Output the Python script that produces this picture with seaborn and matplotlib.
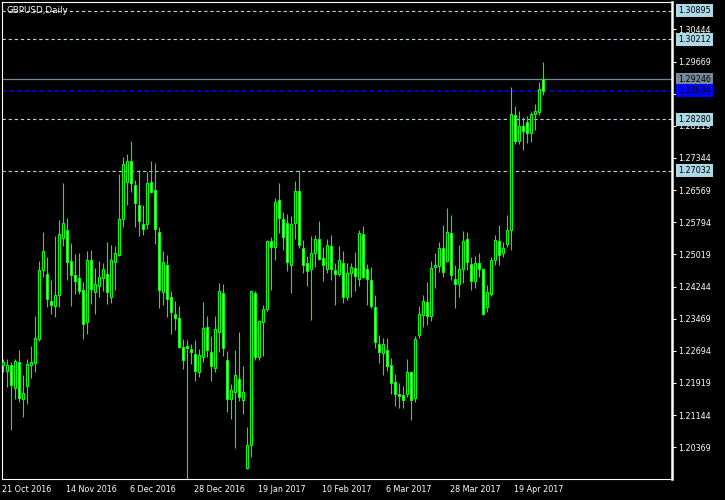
import numpy as np
import pandas as pd
import matplotlib
matplotlib.use('Agg')
import matplotlib.pyplot as plt
import seaborn as sns

# daily candles GBPUSD, 21 Oct 2016 .. Apr 2017
opens = [1.22353, 1.22202, 1.22346, 1.21805, 1.22425, 1.21540, 1.21853, 1.22360, 1.22408, 1.22973,
         1.24637, 1.24541, 1.23889, 1.23783, 1.24048, 1.25422, 1.25600, 1.24853, 1.24531, 1.24444,
         1.24155, 1.23398, 1.24878, 1.24121, 1.24266, 1.24444, 1.24541, 1.24000, 1.24844, 1.25013,
         1.25880, 1.26773, 1.27264, 1.26686, 1.26203, 1.25753, 1.25760, 1.26758, 1.26565, 1.25552,
         1.24107, 1.24757, 1.23985, 1.23575, 1.23479, 1.22795, 1.22811, 1.22739, 1.22611, 1.22192,
         1.22553, 1.23262, 1.22659, 1.22288, 1.23156, 1.24082, 1.22466, 1.21540, 1.21709, 1.22008,
         1.21516, 1.19870, 1.20417, 1.24082, 1.22553, 1.23383, 1.23711, 1.25335, 1.25191, 1.26324,
         1.25880, 1.25769, 1.24771, 1.25769, 1.26541, 1.25181, 1.24820, 1.24661, 1.25046, 1.25384,
         1.24926, 1.24661, 1.25215, 1.24637, 1.24555, 1.24805, 1.24000, 1.24564, 1.24685, 1.24419,
         1.25504, 1.24661, 1.24395, 1.23744, 1.22852, 1.22636, 1.22707, 1.22346, 1.21938, 1.21646,
         1.21622, 1.21661, 1.22177, 1.21564, 1.23077, 1.23559, 1.23865, 1.23542, 1.24723, 1.24747,
         1.25181, 1.24860, 1.25528, 1.24419, 1.24299, 1.24661, 1.25398, 1.24781, 1.24371, 1.24805,
         1.24661, 1.23759, 1.24072, 1.24878, 1.25335, 1.25061, 1.25278, 1.25617, 1.28374, 1.27761,
         1.28108, 1.28204, 1.27939, 1.28397, 1.28445, 1.29246]
highs = [1.22498, 1.22498, 1.22425, 1.22498, 1.22715, 1.22104, 1.22498, 1.22811, 1.23534, 1.24860,
         1.25560, 1.24957, 1.24402, 1.25456, 1.25849, 1.26741, 1.25890, 1.25287, 1.25030, 1.25054,
         1.24348, 1.25095, 1.25119, 1.24685, 1.24860, 1.24805, 1.25311, 1.25239, 1.25222, 1.26959,
         1.27361, 1.27433, 1.27754, 1.26806, 1.27045, 1.26203, 1.26997, 1.27264, 1.27224, 1.25673,
         1.25095, 1.24999, 1.24137, 1.23889, 1.23776, 1.22980, 1.22956, 1.22859, 1.22956, 1.22739,
         1.23872, 1.23534, 1.23052, 1.23534, 1.24323, 1.24299, 1.22691, 1.21895, 1.22715, 1.23149,
         1.22329, 1.20851, 1.24161, 1.24137, 1.23438, 1.23800, 1.25367, 1.25432, 1.26372, 1.26734,
         1.26042, 1.25986, 1.25953, 1.26789, 1.27054, 1.25367, 1.24975, 1.25463, 1.25487, 1.25825,
         1.25191, 1.25391, 1.25487, 1.24812, 1.25215, 1.25095, 1.24805, 1.24805, 1.25070, 1.25600,
         1.25704, 1.24781, 1.24709, 1.24041, 1.23077, 1.23004, 1.23004, 1.22522, 1.22129, 1.21928,
         1.21842, 1.22490, 1.22216, 1.23050, 1.23776, 1.24041, 1.24354, 1.24860, 1.25046, 1.25318,
         1.25728, 1.26138, 1.25970, 1.24764, 1.25246, 1.25577, 1.25552, 1.24950, 1.24981, 1.25046,
         1.24685, 1.24282, 1.24950, 1.25480, 1.25728, 1.25311, 1.25970, 1.29049, 1.28597, 1.28477,
         1.28325, 1.28356, 1.28445, 1.28638, 1.29169, 1.29651]
lows = [1.22184, 1.21829, 1.20786, 1.21533, 1.21468, 1.21107, 1.21420, 1.22040, 1.22184, 1.22932,
        1.24468, 1.23751, 1.23590, 1.23518, 1.23759, 1.25222, 1.24410, 1.23776, 1.24065, 1.24065,
        1.22980, 1.23108, 1.23831, 1.23590, 1.24000, 1.24145, 1.23831, 1.23855, 1.24169, 1.24989,
        1.25687, 1.26218, 1.26532, 1.25687, 1.25470, 1.25487, 1.25632, 1.26493, 1.25278, 1.23735,
        1.23807, 1.23518, 1.23108, 1.23197, 1.22756, 1.22264, 1.19500, 1.22377, 1.21975, 1.22064,
        1.22425, 1.22553, 1.21975, 1.22184, 1.22667, 1.22570, 1.21220, 1.21058, 1.20359, 1.21492,
        1.21179, 1.19846, 1.20142, 1.22474, 1.22474, 1.22570, 1.23663, 1.24169, 1.24884, 1.25543,
        1.25133, 1.24620, 1.24096, 1.25398, 1.25167, 1.24579, 1.24266, 1.23445, 1.24723, 1.24884,
        1.24386, 1.24571, 1.24410, 1.23807, 1.24492, 1.23855, 1.23920, 1.24000, 1.24145, 1.24266,
        1.24451, 1.23807, 1.23735, 1.22771, 1.22408, 1.22119, 1.22216, 1.21661, 1.21372, 1.21324,
        1.21324, 1.21589, 1.21027, 1.21450, 1.23004, 1.23277, 1.23317, 1.23414, 1.24209, 1.24603,
        1.24482, 1.24830, 1.24402, 1.23735, 1.24000, 1.24323, 1.24644, 1.24169, 1.24209, 1.24482,
        1.23559, 1.23638, 1.24024, 1.24764, 1.24764, 1.24957, 1.25207, 1.25126, 1.27689, 1.27689,
        1.27544, 1.27713, 1.27737, 1.28026, 1.28374, 1.28870]
closes = [1.22425, 1.22346, 1.21877, 1.22449, 1.21565, 1.21670, 1.22369, 1.22418, 1.22997, 1.24637,
          1.25095, 1.23951, 1.23807, 1.24034, 1.25504, 1.25769, 1.24836, 1.24531, 1.24386, 1.24145,
          1.23335, 1.24878, 1.24193, 1.24314, 1.24468, 1.24661, 1.24121, 1.24878, 1.25046, 1.25866,
          1.27192, 1.27264, 1.26734, 1.26251, 1.25818, 1.25632, 1.26734, 1.26532, 1.25625, 1.24155,
          1.24830, 1.23937, 1.23638, 1.23494, 1.22787, 1.22481, 1.22771, 1.22667, 1.22216, 1.22587,
          1.23238, 1.22722, 1.22336, 1.23214, 1.24130, 1.22771, 1.21540, 1.21743, 1.22104, 1.21589,
          1.21695, 1.20417, 1.24130, 1.22546, 1.23407, 1.23696, 1.25335, 1.25191, 1.26276, 1.25890,
          1.25432, 1.24830, 1.25745, 1.26541, 1.25239, 1.24757, 1.24612, 1.25046, 1.25384, 1.24916,
          1.24757, 1.25239, 1.24661, 1.24555, 1.24878, 1.24000, 1.24564, 1.24709, 1.24492, 1.25528,
          1.24482, 1.24419, 1.23783, 1.22915, 1.22674, 1.22852, 1.22336, 1.21928, 1.21646, 1.21612,
          1.21516, 1.22177, 1.21516, 1.22980, 1.23583, 1.23889, 1.23542, 1.24685, 1.24764, 1.25167,
          1.24588, 1.25552, 1.24531, 1.24314, 1.24661, 1.25335, 1.24830, 1.24371, 1.24805, 1.24661,
          1.23583, 1.24106, 1.24878, 1.25359, 1.24999, 1.25167, 1.25600, 1.28397, 1.27761, 1.28108,
          1.27987, 1.27939, 1.28397, 1.28470, 1.28999, 1.28964]

date_labels = ['21 Oct 2016', '14 Nov 2016', '6 Dec 2016', '28 Dec 2016', '19 Jan 2017',
               '10 Feb 2017', '6 Mar 2017', '28 Mar 2017', '19 Apr 2017']
date_bars = [0, 16, 32, 48, 64, 80, 96, 112, 128]

price_ticks = [1.20369, 1.21144, 1.21919, 1.22694, 1.23469, 1.24244, 1.25019,
               1.25794, 1.26569, 1.27344, 1.28119, 1.28894, 1.29669, 1.30444]

# levels drawn across the chart
dashed_levels = [1.30895, 1.30212, 1.28280, 1.27032]
bid_level = 1.29246
blue_level = 1.28964

green = '#00ff00'

sns.set_theme(style='dark', rc={'axes.facecolor': 'black', 'figure.facecolor': 'black',
                                'axes.edgecolor': 'white', 'text.color': 'white',
                                'xtick.color': 'white', 'ytick.color': 'white',
                                'axes.grid': False})
plt.rcParams['font.family'] = ['DejaVu Sans']

df = pd.DataFrame({'Open': opens, 'High': highs, 'Low': lows, 'Close': closes})
df['bar'] = np.arange(len(df))
df['bull'] = df['Close'] >= df['Open']
df['body_lo'] = df[['Open', 'Close']].min(axis=1)
df['body_h'] = (df['Close'] - df['Open']).abs().clip(lower=0.00003)

fig = plt.figure(figsize=(7.25, 5), dpi=100)
ax = fig.add_axes([2 / 725, 21 / 500, 670 / 725, 477 / 500])

# level lines
for lv in dashed_levels:
    ax.axhline(lv, color='#add8e6', lw=0.8, dashes=(3, 2.5), zorder=1)
ax.axhline(bid_level, color='#778899', lw=0.9, zorder=1)
ax.axhline(blue_level, color='#0000ff', lw=1.2, dashes=(2.5, 2), zorder=1)

# candles: wicks then bodies (bull hollow black, bear white)
ax.vlines(df['bar'], df['Low'], df['High'], color=green, lw=0.8, zorder=2)
ax.bar(df['bar'], df['body_h'], bottom=df['body_lo'], width=0.5,
       color=np.where(df['bull'], 'black', 'white'), edgecolor=green, linewidth=0.8, zorder=3)

ax.set_xlim(-0.125, 167.375)
ax.set_ylim(1.19604, 1.31105)

ax.yaxis.tick_right()
ax.set_yticks(price_ticks)
ax.set_yticklabels([f'{v:.5f}' for v in price_ticks])
ax.set_xticks(date_bars)
ax.set_xticklabels(date_labels, ha='left')
ax.tick_params(axis='both', length=3, width=0.8, pad=1.5, labelsize=5.8, direction='out',
               colors='white')
for side, sp in ax.spines.items():
    sp.set_color('white')
    sp.set_linewidth(0.8)
ax.spines['right'].set_linewidth(1.8)

# price labels on the right for the levels (they sit over the axis labels, as in MT4)
boxes = [(lv, '#add8e6') for lv in dashed_levels] + [(bid_level, '#778899'), (blue_level, '#0000ff')]
for lv, fc in boxes:
    ax.annotate(f'{lv:.5f}', xy=(1, lv), xycoords=ax.get_yaxis_transform(),
                xytext=(4.6, 0), textcoords='offset points', ha='left', va='center',
                fontsize=5.8, color='black', annotation_clip=False, zorder=5,
                bbox=dict(boxstyle='square,pad=0.25', fc=fc, ec='none'))

ax.text(0.007, 0.983, 'GBPUSD,Daily', transform=ax.transAxes, ha='left', va='center',
        fontsize=6.3, color='white')

fig.savefig('out.png', dpi=100, facecolor='black')
